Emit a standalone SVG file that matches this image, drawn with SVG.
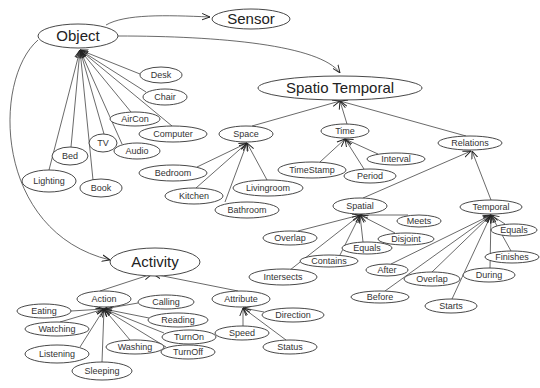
<svg xmlns="http://www.w3.org/2000/svg" width="540" height="388" viewBox="0 0 540 388">
<style>
.n ellipse{fill:#fff;stroke:#333;stroke-width:0.9}
.n text{font-family:"Liberation Sans",Arial,sans-serif;font-size:9px;fill:#333;text-anchor:middle}
.b text{font-size:15px;fill:#222}
.c path,.c line{fill:none;stroke:#444;stroke-width:0.8;marker-end:url(#a)}
</style>
<defs>
<marker id="a" viewBox="0 0 10 10" refX="10" refY="5" markerWidth="8" markerHeight="8" orient="auto" markerUnits="userSpaceOnUse">
<path d="M0,1 L10,5 L0,9" fill="none" stroke="#222" stroke-width="1.2"/>
</marker>
</defs>
<rect width="540" height="388" fill="#fff"/>
<g id="connectors" class="c">
<path d="M106,25 C125,14 165,15 210,17"/>
<path d="M118,36 C220,36 320,45 340,73"/>
<path d="M38,40 C-8,80 -6,232 110,260"/>
<line x1="140" y1="74" x2="80" y2="50"/>
<line x1="146" y1="92" x2="80" y2="50"/>
<line x1="131" y1="112" x2="80" y2="50"/>
<line x1="172" y1="126" x2="80" y2="50"/>
<line x1="122" y1="144" x2="80" y2="50"/>
<line x1="104" y1="134" x2="80" y2="50"/>
<line x1="93" y1="180" x2="80" y2="50"/>
<line x1="71" y1="147" x2="80" y2="50"/>
<line x1="49" y1="170" x2="80" y2="50"/>
<line x1="252" y1="126" x2="340" y2="101"/>
<line x1="347" y1="124" x2="340" y2="101"/>
<line x1="466" y1="136" x2="340" y2="101"/>
<line x1="197" y1="167" x2="247" y2="143"/>
<line x1="196" y1="188" x2="247" y2="143"/>
<line x1="267" y1="180" x2="247" y2="143"/>
<line x1="225" y1="202" x2="247" y2="143"/>
<line x1="320" y1="162" x2="345" y2="139"/>
<line x1="364" y1="169" x2="345" y2="139"/>
<line x1="378" y1="154" x2="345" y2="139"/>
<line x1="363" y1="198" x2="471" y2="151"/>
<line x1="491" y1="200" x2="472" y2="151"/>
<line x1="408" y1="215" x2="360" y2="215"/>
<line x1="395" y1="233" x2="360" y2="215"/>
<line x1="363" y1="242" x2="360" y2="215"/>
<line x1="340" y1="255" x2="360" y2="215"/>
<line x1="298" y1="231" x2="360" y2="215"/>
<line x1="290" y1="270" x2="360" y2="215"/>
<line x1="505" y1="224" x2="491" y2="215"/>
<line x1="511" y1="251" x2="491" y2="215"/>
<line x1="490" y1="268" x2="491" y2="215"/>
<line x1="452" y1="299" x2="491" y2="215"/>
<line x1="432" y1="272" x2="491" y2="215"/>
<line x1="385" y1="291" x2="491" y2="215"/>
<line x1="391" y1="264" x2="491" y2="215"/>
<line x1="100" y1="291" x2="152" y2="274"/>
<line x1="238" y1="291" x2="153" y2="274"/>
<line x1="71" y1="311" x2="104" y2="309"/>
<line x1="60" y1="322" x2="104" y2="309"/>
<line x1="80" y1="347" x2="104" y2="309"/>
<line x1="102" y1="362" x2="104" y2="309"/>
<line x1="130" y1="340" x2="104" y2="309"/>
<line x1="138" y1="303" x2="104" y2="309"/>
<line x1="149" y1="318" x2="104" y2="309"/>
<line x1="164" y1="333" x2="104" y2="309"/>
<line x1="166" y1="347" x2="104" y2="309"/>
<line x1="264" y1="312" x2="243" y2="308"/>
<line x1="243" y1="326" x2="243" y2="308"/>
<line x1="286" y1="340" x2="243" y2="308"/>
</g>
<g id="object" class="n b"><ellipse cx="78" cy="36" rx="40" ry="12"/><text x="78" y="41">Object</text></g>
<g id="sensor" class="n b"><ellipse cx="251" cy="19" rx="39" ry="10"/><text x="251" y="24">Sensor</text></g>
<g id="spatiotemporal" class="n b"><ellipse cx="340" cy="88" rx="82" ry="12"/><text x="340" y="93">Spatio Temporal</text></g>
<g id="activity" class="n b"><ellipse cx="155" cy="262" rx="45" ry="14"/><text x="155" y="267">Activity</text></g>
<g id="desk" class="n"><ellipse cx="161" cy="75" rx="21" ry="8"/><text x="161" y="78">Desk</text></g>
<g id="chair" class="n"><ellipse cx="165" cy="97" rx="22" ry="8"/><text x="165" y="100">Chair</text></g>
<g id="aircon" class="n"><ellipse cx="135" cy="119" rx="25" ry="7"/><text x="135" y="122">AirCon</text></g>
<g id="computer" class="n"><ellipse cx="173" cy="134" rx="34" ry="8"/><text x="173" y="137">Computer</text></g>
<g id="tv" class="n"><ellipse cx="103" cy="143" rx="14" ry="9"/><text x="103" y="146">TV</text></g>
<g id="audio" class="n"><ellipse cx="137" cy="151" rx="23" ry="8"/><text x="137" y="154">Audio</text></g>
<g id="bed" class="n"><ellipse cx="70" cy="156" rx="18" ry="9"/><text x="70" y="159">Bed</text></g>
<g id="lighting" class="n"><ellipse cx="49" cy="181" rx="27" ry="11"/><text x="49" y="184">Lighting</text></g>
<g id="book" class="n"><ellipse cx="101" cy="188" rx="21" ry="9"/><text x="101" y="191">Book</text></g>
<g id="space" class="n"><ellipse cx="246" cy="134" rx="27" ry="8"/><text x="246" y="137">Space</text></g>
<g id="time" class="n"><ellipse cx="345" cy="131" rx="24" ry="7"/><text x="345" y="134">Time</text></g>
<g id="relations" class="n"><ellipse cx="470" cy="143" rx="32" ry="7"/><text x="470" y="146">Relations</text></g>
<g id="bedroom" class="n"><ellipse cx="173" cy="173" rx="34" ry="8"/><text x="173" y="176">Bedroom</text></g>
<g id="kitchen" class="n"><ellipse cx="194" cy="196" rx="29" ry="8"/><text x="194" y="199">Kitchen</text></g>
<g id="livingroom" class="n"><ellipse cx="268" cy="188" rx="35" ry="8"/><text x="268" y="191">Livingroom</text></g>
<g id="bathroom" class="n"><ellipse cx="247" cy="210" rx="32" ry="8"/><text x="247" y="213">Bathroom</text></g>
<g id="timestamp" class="n"><ellipse cx="312" cy="170" rx="34" ry="8"/><text x="312" y="173">TimeStamp</text></g>
<g id="period" class="n"><ellipse cx="370" cy="176" rx="26" ry="7"/><text x="370" y="179">Period</text></g>
<g id="interval" class="n"><ellipse cx="396" cy="159" rx="29" ry="6"/><text x="396" y="162">Interval</text></g>
<g id="spatial" class="n"><ellipse cx="360" cy="206" rx="27" ry="8"/><text x="360" y="209">Spatial</text></g>
<g id="temporal" class="n"><ellipse cx="491" cy="207" rx="31" ry="7"/><text x="491" y="210">Temporal</text></g>
<g id="meets" class="n"><ellipse cx="419" cy="221" rx="22" ry="6"/><text x="419" y="224">Meets</text></g>
<g id="disjoint" class="n"><ellipse cx="406" cy="239" rx="28" ry="6"/><text x="406" y="242">Disjoint</text></g>
<g id="equals-spatial" class="n"><ellipse cx="367" cy="248" rx="25" ry="6"/><text x="367" y="251">Equals</text></g>
<g id="contains" class="n"><ellipse cx="329" cy="261" rx="29" ry="6"/><text x="329" y="264">Contains</text></g>
<g id="overlap-spatial" class="n"><ellipse cx="290" cy="238" rx="27" ry="7"/><text x="290" y="241">Overlap</text></g>
<g id="intersects" class="n"><ellipse cx="283" cy="277" rx="34" ry="8"/><text x="283" y="280">Intersects</text></g>
<g id="equals-temporal" class="n"><ellipse cx="514" cy="230" rx="23" ry="6"/><text x="514" y="233">Equals</text></g>
<g id="finishes" class="n"><ellipse cx="512" cy="257" rx="27" ry="6"/><text x="512" y="260">Finishes</text></g>
<g id="during" class="n"><ellipse cx="489" cy="275" rx="26" ry="7"/><text x="489" y="278">During</text></g>
<g id="starts" class="n"><ellipse cx="451" cy="306" rx="26" ry="7"/><text x="451" y="309">Starts</text></g>
<g id="overlap-temporal" class="n"><ellipse cx="432" cy="279" rx="28" ry="7"/><text x="432" y="282">Overlap</text></g>
<g id="after" class="n"><ellipse cx="387" cy="270" rx="21" ry="6"/><text x="387" y="273">After</text></g>
<g id="before" class="n"><ellipse cx="380" cy="297" rx="29" ry="6"/><text x="380" y="300">Before</text></g>
<g id="action" class="n"><ellipse cx="104" cy="299" rx="27" ry="8"/><text x="104" y="302">Action</text></g>
<g id="attribute" class="n"><ellipse cx="241" cy="299" rx="29" ry="8"/><text x="241" y="302">Attribute</text></g>
<g id="eating" class="n"><ellipse cx="44" cy="311" rx="27" ry="7"/><text x="44" y="314">Eating</text></g>
<g id="watching" class="n"><ellipse cx="57" cy="329" rx="32" ry="7"/><text x="57" y="332">Watching</text></g>
<g id="listening" class="n"><ellipse cx="57" cy="354" rx="32" ry="9"/><text x="57" y="357">Listening</text></g>
<g id="sleeping" class="n"><ellipse cx="102" cy="371" rx="30" ry="9"/><text x="102" y="374">Sleeping</text></g>
<g id="washing" class="n"><ellipse cx="135" cy="347" rx="29" ry="7"/><text x="135" y="350">Washing</text></g>
<g id="calling" class="n"><ellipse cx="166" cy="302" rx="28" ry="7"/><text x="166" y="305">Calling</text></g>
<g id="reading" class="n"><ellipse cx="178" cy="320" rx="30" ry="7"/><text x="178" y="323">Reading</text></g>
<g id="turnon" class="n"><ellipse cx="189" cy="337" rx="27" ry="7"/><text x="189" y="340">TurnOn</text></g>
<g id="turnoff" class="n"><ellipse cx="188" cy="352" rx="27" ry="7"/><text x="188" y="355">TurnOff</text></g>
<g id="direction" class="n"><ellipse cx="293" cy="315" rx="31" ry="7"/><text x="293" y="318">Direction</text></g>
<g id="speed" class="n"><ellipse cx="242" cy="333" rx="27" ry="7"/><text x="242" y="336">Speed</text></g>
<g id="status" class="n"><ellipse cx="290" cy="347" rx="27" ry="7"/><text x="290" y="350">Status</text></g>
</svg>
